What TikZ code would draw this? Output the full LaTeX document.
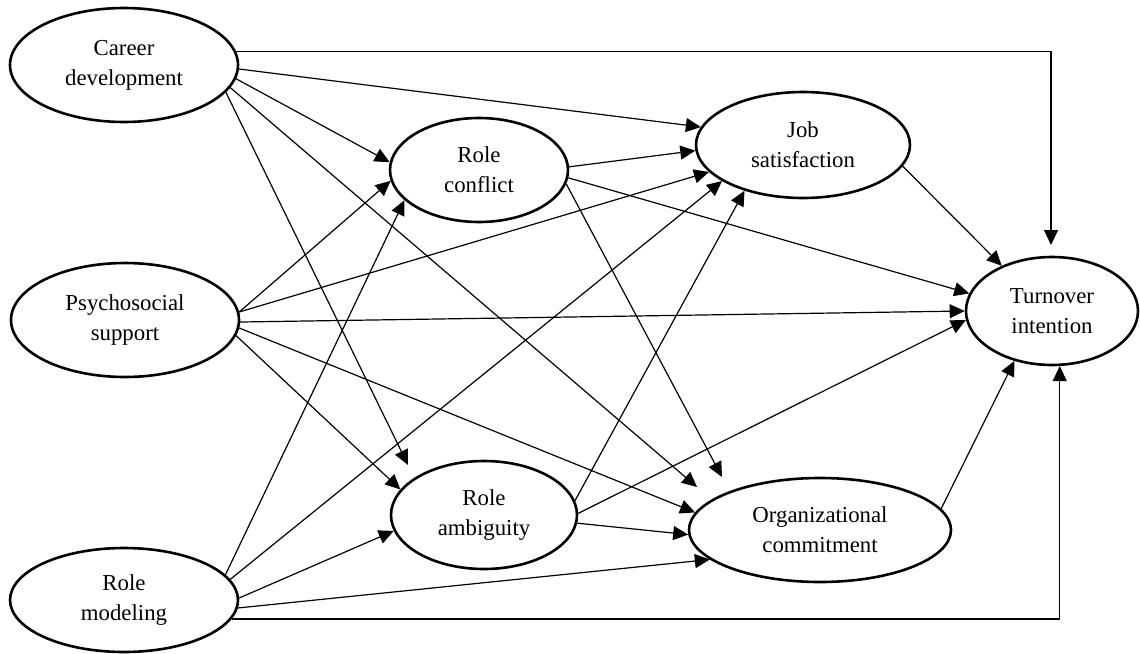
\documentclass[tikz,border=0pt]{standalone}
\usepackage{fontspec}
\setmainfont{Liberation Serif}
\usetikzlibrary{shapes.geometric,arrows.meta}
\tikzset{
  lat/.style={ellipse, draw, line width=1.3pt, inner sep=0pt, align=center,
    font=\fontsize{11.4}{15}\selectfont},
  arr/.style={-{Triangle[length=7.5pt,width=7pt]}, line width=0.6pt},
}
\begin{document}
\begin{tikzpicture}[x=0.5pt,y=-0.5pt]
\useasboundingbox (0,0) rectangle (1140,653);
\node[lat, minimum width=114pt, minimum height=57pt] (CD) at (124,65) {Career\\development};
\node[lat, minimum width=114pt, minimum height=57pt] (PS) at (125,320) {Psychosocial\\support};
\node[lat, minimum width=114pt, minimum height=52pt] (RM) at (124,600) {Role\\modeling};
\node[lat, minimum width=89pt, minimum height=52pt] (RC) at (479,170) {Role\\conflict};
\node[lat, minimum width=107pt, minimum height=53pt] (JS) at (803,145) {Job\\satisfaction};
\node[lat, minimum width=93pt, minimum height=54pt] (RA) at (484,515) {Role\\ambiguity};
\node[lat, minimum width=131pt, minimum height=52pt] (OC) at (820,530) {Organizational\\commitment};
\node[lat, minimum width=86pt, minimum height=54pt] (TI) at (1052,311) {Turnover\\intention};

\coordinate (tiTop) at (1051,245);
\coordinate (ocA) at (697,487);
\coordinate (ocB) at (722,477);
\coordinate (raA) at (408,465);

\draw[arr] (CD.7) -| (tiTop);
\draw[arr] (CD.358.5) -- (JS.170.8);
\draw[arr] (CD.353.3) -- (RC.175);
\draw[arr] (CD.348.5) -- (ocA);
\draw[arr] (CD.345.3) -- (raA);

\draw[arr] (PS.4) -- (RC.187);
\draw[arr] (PS.4) -- (JS.196);
\draw[arr] (PS.359.5) -- (TI.180.6);
\draw[arr] (PS.356.5) -- (OC.172.4);
\draw[arr] (PS.352.4) -- (RA.163.5);

\draw[arr] (RM.14.5) -- (RC.202);
\draw[arr] (RM.11.9) -- (JS.204.2);
\draw[arr] (RM.1.5) -- (RA.190.3);
\draw[arr] (RM.356.5) -- (OC.195.5);
\draw[arr] (RM.350.6) -| (TI.278.4);

\draw[arr] (RC.2) -- (JS.183.7);
\draw[arr] (RC.355.6) -- (TI.168.7);
\draw[arr] (RC.351.3) -- (ocB);

\draw[arr] (RA.9.3) -- (JS.218);
\draw[arr] (RA.1.9) -- (TI.186.9);
\draw[arr] (RA.355) -- (OC.182.1);

\draw[arr] (JS.348) -- (TI.138);
\draw[arr] (OC.10.2) -- (TI.233.3);
\end{tikzpicture}
\end{document}
